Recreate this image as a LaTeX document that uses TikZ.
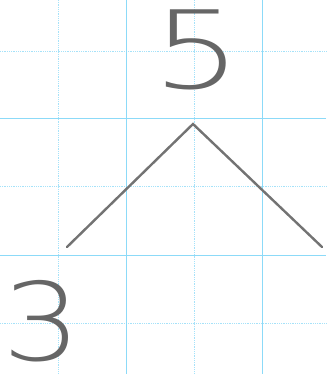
\documentclass[tikz,border=0pt]{standalone}
\usepackage{fontspec}
\newfontfamily\handfont{DejaVu Sans ExtraLight}
\begin{document}
\begin{tikzpicture}[x=1pt, y=-1pt,
    gridmajor/.style={draw=cyan!45, line width=0.9pt},
    gridminor/.style={draw=cyan!35, line width=0.8pt, densely dotted},
    pencil/.style={draw=black!55, line width=2.4pt, line cap=round},
    digit/.style={text=black!60, font=\handfont\fontsize{108}{108}\selectfont, inner sep=0pt}]
\useasboundingbox (0,0) rectangle (326,374);

% grid paper
\foreach \x in {58,194} \draw[gridminor] (\x,0) -- (\x,374);
\foreach \y in {51,186,323} \draw[gridminor] (0,\y) -- (326,\y);
\foreach \x in {126,262} \draw[gridmajor] (\x,0) -- (\x,374);
\foreach \y in {118,255} \draw[gridmajor] (0,\y) -- (326,\y);

% numbers
\node[digit] (five) at (197,50) {\scalebox{1.3}[1]{5}};
\node[digit] (three) at (42,321) {\scalebox{1.15}[1]{3}};

% branches
\coordinate (apex) at (193,124);
\coordinate (leftend) at (67,247);
\coordinate (rightend) at (322,247);
\draw[pencil] (leftend) -- (apex) -- (rightend);
\end{tikzpicture}
\end{document}
